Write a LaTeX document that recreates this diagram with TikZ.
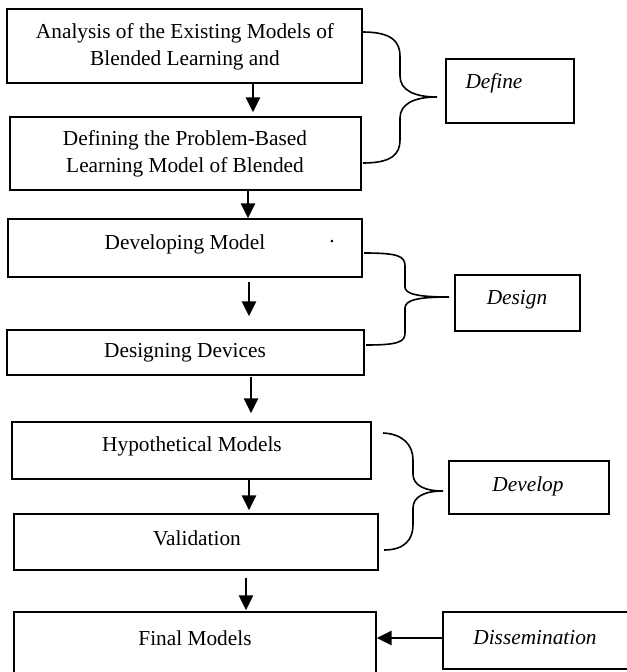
\documentclass[tikz,border=0pt]{standalone}
\usepackage{fontspec}
\setmainfont{Liberation Serif}
\usetikzlibrary{arrows.meta}
\begin{document}
\begin{tikzpicture}[x=0.75pt,y=-0.75pt,
  box/.style={draw, line width=1.3pt, inner sep=0pt},
  lbl/.style={font=\fontsize{16}{20.25}\selectfont, align=center, inner sep=0pt},
  ilbl/.style={font=\fontsize{16}{20.25}\selectfont\itshape, align=center, inner sep=0pt},
  arr/.style={line width=1.8pt, -{Triangle[width=10.5pt,length=11pt]}},
  brace/.style={line width=1.2pt}]
\useasboundingbox (0,0) rectangle (627,672);
% boxes
\node[box, minimum width=266.25pt, minimum height=55.5pt] (b1) at (184.5,46) {};
\node[box, minimum width=263.25pt, minimum height=54.75pt] (b2) at (185.5,153.5) {};
\node[box, minimum width=265.5pt, minimum height=43.5pt] (b3) at (185,248) {};
\node[box, minimum width=267.75pt, minimum height=33.75pt] (b4) at (185.5,352.5) {};
\node[box, minimum width=269.25pt, minimum height=42.75pt] (b5) at (191.5,450.5) {};
\node[box, minimum width=273pt, minimum height=42pt] (b6) at (196,542) {};
\node[box, minimum width=271.5pt, minimum height=48pt] (b7) at (195,644) {};
\node[box, minimum width=96pt, minimum height=48pt] (define) at (510,91) {};
\node[box, minimum width=93.75pt, minimum height=42pt] (design) at (517.5,303) {};
\node[box, minimum width=120pt, minimum height=39.75pt] (develop) at (529,487.5) {};
\node[box, minimum width=141.75pt, minimum height=42.75pt] (dissem) at (537.5,640.5) {};
% texts
\node[lbl] (t1) at (185,46.5) {Analysis of the Existing Models of\\Blended Learning and};
\node[lbl] (t2) at (185,154) {Defining the Problem-Based\\Learning Model of Blended};
\node[lbl] (t3) at (185,244) {Developing Model};
\node[lbl] (dot) at (332,242) {.};
\node[lbl] (t4) at (185,353) {Designing Devices};
\node[lbl] (t5) at (192,446) {Hypothetical Models};
\node[lbl] (t6) at (197,538) {Validation};
\node[lbl] (t7) at (195,638) {Final Models};
\node[ilbl] (tdef) at (494,83) {Define};
\node[ilbl] (tdes) at (517,300) {Design};
\node[ilbl] (tdev) at (528,486) {Develop};
\node[ilbl] (tdis) at (535,638) {Dissemination};
% arrow columns
\coordinate (c1) at (253,0);
\coordinate (c2) at (248,0);
\coordinate (c3) at (249,0);
\coordinate (c4) at (251,0);
\coordinate (c5) at (249,0);
\coordinate (c6) at (246,0);
\coordinate (c7) at (0,638);
\draw[arr, shorten >=3pt] (b1.south -| c1) -- (b2.north -| c1);
\draw[arr] (b2.south -| c2) -- (b3.north -| c2);
\draw[arr, shorten <=3pt, shorten >=9.75pt] (b3.south -| c3) -- (b4.north -| c3);
\draw[arr, shorten <=0.75pt, shorten >=6pt] (b4.south -| c4) -- (b5.north -| c4);
\draw[arr, shorten >=2.25pt] (b5.south -| c5) -- (b6.north -| c5);
\draw[arr, shorten <=5.25pt, shorten >=0.75pt] (b6.south -| c6) -- (b7.north -| c6);
\draw[arr] (dissem.west |- c7) -- (b7.east |- c7);
% braces
\draw[brace] (363,32) .. controls (392,32) and (400,42) .. (400,56) -- (400,76)
  .. controls (400,90) and (414,97) .. (437,97)
  .. controls (414,97) and (400,104) .. (400,118) -- (400,140)
  .. controls (400,154) and (392,163) .. (363,163);
\draw[brace] (364,253) .. controls (398,253) and (405,256) .. (405,266) -- (405,287)
  .. controls (405,294) and (418,297) .. (449,297)
  .. controls (418,297) and (405,300) .. (405,308) -- (405,333)
  .. controls (405,342) and (398,345) .. (366,345);
\draw[brace] (383,433) .. controls (403,434) and (413,445) .. (413,460) -- (413,474)
  .. controls (413,485) and (424,491) .. (443,491)
  .. controls (424,491) and (413,497) .. (413,508) -- (413,525)
  .. controls (413,540) and (404,550) .. (384,550);
\end{tikzpicture}
\end{document}
